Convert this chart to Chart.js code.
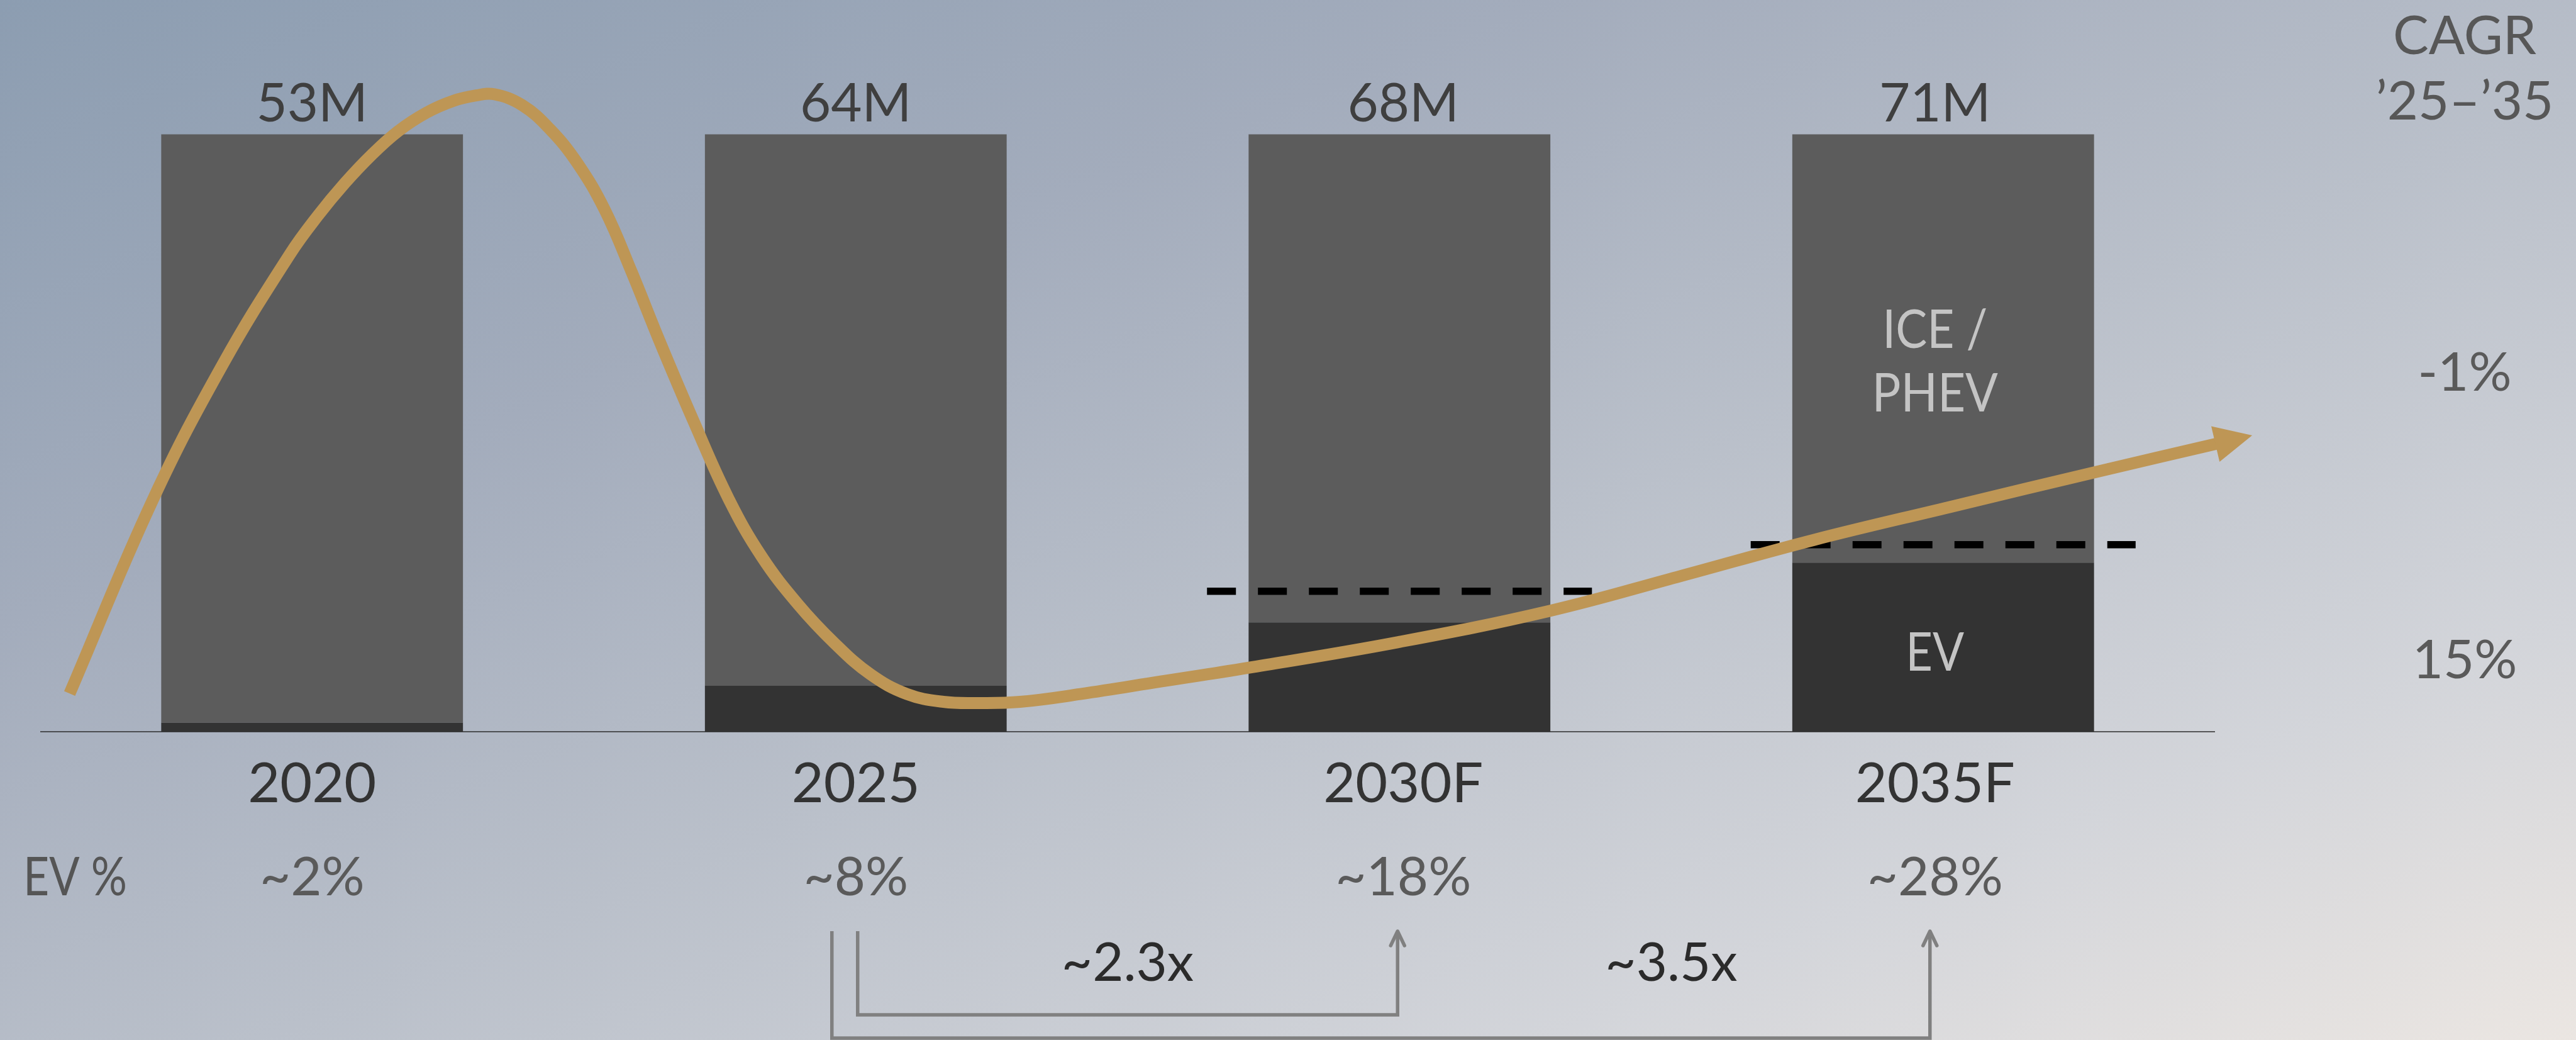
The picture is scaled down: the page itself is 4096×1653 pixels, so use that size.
<!DOCTYPE html>
<html>
<head>
<meta charset="utf-8">
<script src="https://cdn.jsdelivr.net/npm/chart.js@4.4.1/dist/chart.umd.min.js"></script>
<style>
  html, body { margin: 0; padding: 0; overflow: hidden; }
  #wrap { width: 4096px; height: 1653px; }
</style>
</head>
<body>
<div id="wrap"><canvas id="chart" width="4096" height="1653"></canvas></div>
<script>
// values
const years = ['2020', '2025', '2030F', '2035F'];
const totals = ['53M', '64M', '68M', '71M'];
const evShare = [1.5, 7.7, 18.3, 28.3];        // EV part of each bar, % of bar height
const evLabels = ['~2%', '~8%', '~18%', '~28%'];
const priorEv = [null, null, 23.5, 31.3];      // dashed markers
const cagrLabels = ['-1%', '15%'];
const multipliers = ['~2.3x', '~3.5x'];

// gold curve: x in category units (0 = 2020 ... 3 = 2035F), y in % of bar height
const curveX = [-0.446, -0.292, -0.163, -0.041, 0.010, 0.060, 0.110, 0.158, 0.210, 0.260, 0.302, 0.335,
                0.386, 0.437, 0.487, 0.538, 0.588, 0.639, 0.702, 0.766, 0.827, 0.894, 0.961, 1.027,
                1.094, 1.161, 1.227, 1.302, 1.413, 1.561, 1.722, 1.998, 2.275, 2.511, 2.762, 3.012, 3.287, 3.503];
const curveY = [6.4, 39.0, 61.7, 79.9, 86.3, 91.8, 96.6, 100.5, 103.6, 105.6, 106.5, 106.7,
                104.9, 100.9, 95.3, 87.4, 76.9, 65.4, 51.9, 39.0, 29.3, 21.3, 14.8, 9.6,
                6.3, 5.0, 4.8, 5.0, 6.3, 8.4, 10.7, 15.0, 20.2, 25.9, 32.1, 37.6, 43.6, 48.2];

const FONT = 'Lato, "Open Sans", sans-serif';
const GOLD = '#be9655';
const DASH_HALF = 0.354;          // half length of the dashed markers, in category units
const colNudge = [0, 0, 6, -13];  // small text shifts per column, px

const iceShare = evShare.map(v => 100 - v);

function drawText(ctx, str, x, y, size, color, align, squeeze) {
    ctx.save();
    ctx.font = `${size}px ${FONT}`;
    ctx.fillStyle = color;
    ctx.textAlign = align || 'center';
    ctx.textBaseline = 'alphabetic';
    ctx.translate(x, y);
    ctx.scale(squeeze || 1, 1);
    ctx.fillText(str, 0, 0);
    ctx.restore();
}

const decor = {
    id: 'decor',
    beforeDraw(chart) {
        const { ctx, width: w, height: h } = chart;
        // same corners as a css "to bottom right" gradient
        const n = Math.sqrt(w * w + h * h);
        const L = w * h / n;
        const cx = w / 2, cy = h / 2, dx = h / n, dy = w / n;
        const g = ctx.createLinearGradient(cx - L * dx, cy - L * dy, cx + L * dx, cy + L * dy);
        g.addColorStop(0, '#8c9db1');
        g.addColorStop(0.3, '#a3acbc');
        g.addColorStop(0.55, '#bac0ca');
        g.addColorStop(0.8, '#d3d5da');
        g.addColorStop(1, '#ebe6e2');
        ctx.save();
        ctx.fillStyle = g;
        ctx.fillRect(0, 0, w, h);
        ctx.restore();
    },
    afterDatasetsDraw(chart) {
        // arrow head at the end of the gold curve
        const ctx = chart.ctx;
        const meta = chart.getDatasetMeta(chart.data.datasets.length - 1);
        const pts = meta.data;
        const last = pts[pts.length - 1];
        const prev = pts[pts.length - 2];
        let ax = last.x - (last.cp1x ?? prev.x);
        let ay = last.y - (last.cp1y ?? prev.y);
        if (Math.abs(ax) + Math.abs(ay) < 0.01) {
            ax = last.x - prev.x;
            ay = last.y - prev.y;
        }
        const len = Math.hypot(ax, ay);
        const ux = ax / len, uy = ay / len;
        const bx = last.x - ux * 2, by = last.y - uy * 2;
        ctx.save();
        ctx.fillStyle = GOLD;
        ctx.beginPath();
        ctx.moveTo(bx + ux * 60, by + uy * 60);
        ctx.lineTo(bx - uy * 29, by + ux * 29);
        ctx.lineTo(bx + uy * 29, by - ux * 29);
        ctx.closePath();
        ctx.fill();
        ctx.restore();
    },
    afterDraw(chart) {
        const ctx = chart.ctx;
        const x = chart.scales.x;
        const y = chart.scales.yb;
        const area = chart.chartArea;
        const base = y.getPixelForValue(0);
        const top = y.getPixelForValue(100);
        const xs = years.map((_, i) => x.getPixelForValue(i));
        const tx = xs.map((v, i) => v + colNudge[i]);

        ctx.save();
        // baseline
        ctx.strokeStyle = '#2b2b2b';
        ctx.lineWidth = 1.5;
        ctx.beginPath();
        ctx.moveTo(area.left, base);
        ctx.lineTo(area.right, base);
        ctx.stroke();

        years.forEach((yr, i) => {
            drawText(ctx, totals[i], tx[i], top - 20, 85, '#3f3f3f');
            drawText(ctx, yr, tx[i], base + 112, 88, '#333333');
            drawText(ctx, evLabels[i], tx[i], base + 260, 85, '#5a5a5a');
        });
        drawText(ctx, 'EV %', 37, base + 260, 85, '#555555', 'left', 0.84);

        // labels inside the last bar
        drawText(ctx, 'ICE /', tx[3], 553, 85, '#c4c4c4', 'center', 0.88);
        drawText(ctx, 'PHEV', tx[3], 654, 85, '#c4c4c4', 'center', 0.9);
        drawText(ctx, 'EV', tx[3], 1066, 85, '#c4c4c4', 'center', 0.87);

        // CAGR column
        const cx = area.right + 397;
        drawText(ctx, 'CAGR', cx, 86, 85, '#575757');
        drawText(ctx, '\u201925\u2013\u201935', cx, 190, 85, '#575757');
        drawText(ctx, cagrLabels[0], cx, 621, 85, '#5a5a5a');
        drawText(ctx, cagrLabels[1], cx, 1078, 85, '#5a5a5a');

        // growth brackets
        drawText(ctx, multipliers[0], (xs[1] + xs[2]) / 2, base + 396, 85, '#2b2b2b');
        drawText(ctx, multipliers[1], (xs[2] + xs[3]) / 2, base + 396, 85, '#2b2b2b');

        const bTop = base + 317;
        ctx.strokeStyle = '#808080';
        ctx.lineWidth = 5.5;
        ctx.lineJoin = 'miter';
        ctx.lineCap = 'butt';
        ctx.beginPath();
        ctx.moveTo(xs[1] + 3, bTop);
        ctx.lineTo(xs[1] + 3, base + 450);
        ctx.lineTo(xs[2] - 3, base + 450);
        ctx.lineTo(xs[2] - 3, bTop);
        ctx.moveTo(xs[1] - 38, bTop);
        ctx.lineTo(xs[1] - 38, base + 487);
        ctx.lineTo(xs[3] - 21, base + 487);
        ctx.lineTo(xs[3] - 21, bTop);
        ctx.stroke();
        ctx.lineCap = 'round';
        ctx.lineJoin = 'round';
        [xs[2] - 3, xs[3] - 21].forEach(ax => {
            ctx.beginPath();
            ctx.moveTo(ax - 11, bTop + 23);
            ctx.lineTo(ax, bTop);
            ctx.lineTo(ax + 11, bTop + 23);
            ctx.stroke();
        });
        ctx.restore();
    }
};

const dashSets = priorEv
    .map((v, i) => v === null ? null : {
        type: 'line',
        xAxisID: 'xl',
        yAxisID: 'y',
        data: [{ x: i - DASH_HALF, y: v }, { x: i + DASH_HALF, y: v }],
        borderColor: '#000000',
        borderWidth: 11.5,
        borderDash: [46, 35],
        borderCapStyle: 'butt',
        pointRadius: 0,
        order: 1
    })
    .filter(d => d);

function draw() {
    new Chart(document.getElementById('chart'), {
        type: 'bar',
        data: {
            labels: years,
            datasets: [
                {
                    label: 'EV',
                    data: evShare,
                    backgroundColor: '#333333',
                    xAxisID: 'x', yAxisID: 'yb',
                    grouped: false,
                    barPercentage: 0.555, categoryPercentage: 1,
                    borderWidth: 0,
                    order: 2
                },
                {
                    label: 'ICE / PHEV',
                    data: iceShare,
                    backgroundColor: '#5c5c5c',
                    xAxisID: 'x', yAxisID: 'yb',
                    grouped: false,
                    barPercentage: 0.555, categoryPercentage: 1,
                    borderWidth: 0,
                    order: 2
                },
                ...dashSets,
                {
                    type: 'line',
                    label: 'trend',
                    xAxisID: 'xl', yAxisID: 'y',
                    data: curveX.map((v, i) => ({ x: v, y: curveY[i] })),
                    borderColor: GOLD,
                    borderWidth: 19,
                    borderCapStyle: 'butt',
                    borderJoinStyle: 'round',
                    tension: 0.4,
                    pointRadius: 0,
                    clip: false,
                    order: 0
                }
            ]
        },
        options: {
            responsive: false,
            devicePixelRatio: 1,
            animation: false,
            layout: { padding: { left: 64, right: 574, top: 71, bottom: 490 } },
            plugins: { legend: { display: false }, tooltip: { enabled: false } },
            scales: {
                x: { type: 'category', offset: true, stacked: true, display: false },
                xl: { type: 'linear', min: -0.5, max: 3.5, offset: false, display: false, grid: { offset: false } },
                yb: { type: 'linear', stacked: true, min: 0, max: 115, display: false },
                y: { type: 'linear', min: 0, max: 115, display: false }
            }
        },
        plugins: [decor]
    });
}

document.fonts.load('85px Lato').then(draw, draw);
</script>
</body>
</html>
